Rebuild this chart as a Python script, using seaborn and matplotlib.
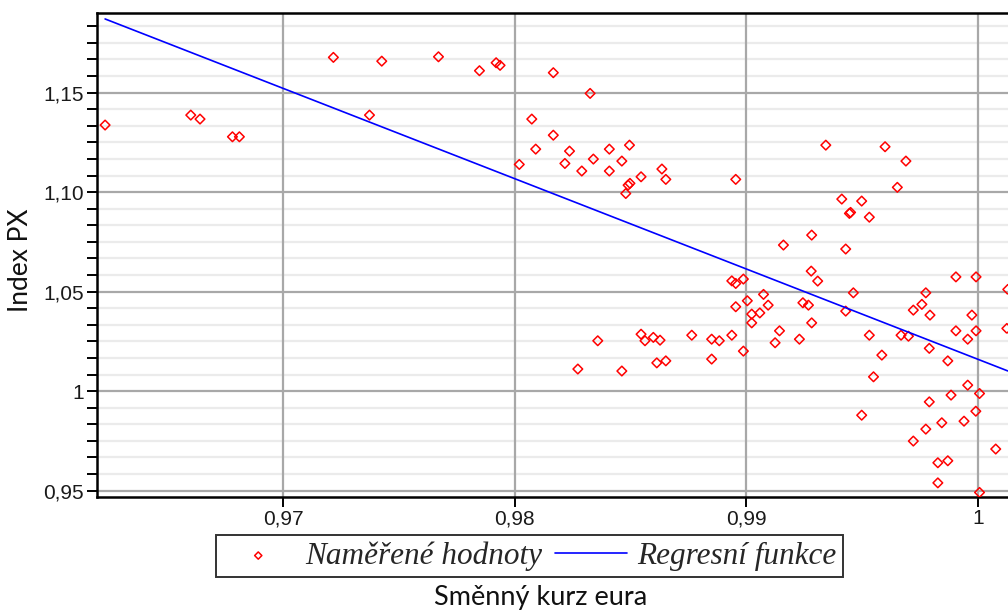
import matplotlib
matplotlib.use("Agg")
import matplotlib.pyplot as plt
from matplotlib.ticker import FixedLocator, FixedFormatter, MultipleLocator, NullFormatter
import seaborn as sns
import pandas as pd

# Exchange rate EUR vs. PX index observations
kurz_eura = [
    0.9623, 0.9660, 0.9664, 0.9678, 0.9681, 0.97216, 0.97372, 0.97425, 0.97670, 0.97847,
    0.97919, 0.97936, 0.98019, 0.98073, 0.98090, 0.98166, 0.98166, 0.98216, 0.98236, 0.98289,
    0.98325, 0.98339, 0.98408, 0.98408, 0.98462, 0.98495, 0.98479, 0.98489, 0.98497, 0.98545,
    0.98635, 0.98652, 0.98954, 0.99160, 0.99343, 0.99599, 0.99689, 0.99652, 0.99412, 0.99498,
    0.99445, 0.99450, 0.99531, 0.99282, 0.99429, 0.99280, 0.99308, 0.99074, 0.99094, 0.99058,
    0.99244, 0.99268, 0.99282, 0.99143, 0.99124, 0.99229, 0.99462, 0.99429, 0.99531, 0.99585,
    0.99549, 0.99498, 0.99668, 0.99700, 0.99775, 0.99758, 0.99721, 0.99793, 0.99790, 0.99870,
    0.99905, 0.99992, 0.99974, 0.99905, 0.99992, 0.99956, 1.00129, 1.00125, 0.99956, 1.00007,
    0.99884, 0.99790, 0.99991, 0.99940, 0.99844, 0.99775, 0.99721, 1.00077, 0.99827, 0.99870,
    0.99827, 1.00007, 0.98937, 0.98954, 0.98987, 0.99004, 0.98954, 0.99023, 0.99023, 0.98987,
    0.98937, 0.98850, 0.98883, 0.98850, 0.98764, 0.98545, 0.98562, 0.98598, 0.98627, 0.98613,
    0.98652, 0.98358, 0.98272, 0.98462,
]
index_px = [
    1.1337, 1.1387, 1.1367, 1.1278, 1.1278, 1.1677, 1.1387, 1.1658, 1.1680, 1.1610,
    1.1650, 1.1637, 1.1139, 1.1367, 1.1216, 1.1600, 1.1286, 1.1144, 1.1206, 1.1106,
    1.1496, 1.1166, 1.1216, 1.1106, 1.1156, 1.1236, 1.0993, 1.1035, 1.1044, 1.1077,
    1.1116, 1.1064, 1.1064, 1.0734, 1.1236, 1.1228, 1.1156, 1.1024, 1.0965, 1.0955,
    1.0893, 1.0898, 1.0874, 1.0784, 1.0714, 1.0603, 1.0553, 1.0486, 1.0432, 1.0393,
    1.0444, 1.0432, 1.0343, 1.0303, 1.0243, 1.0261, 1.0494, 1.0402, 1.0281, 1.0181,
    1.0072, 0.9879, 1.0281, 1.0276, 1.0494, 1.0436, 1.0407, 1.0382, 1.0215, 1.0152,
    1.0574, 1.0574, 1.0382, 1.0303, 1.0303, 1.0261, 1.0511, 1.0315, 1.0030, 0.9988,
    0.9980, 0.9946, 0.9899, 0.9849, 0.9841, 0.9809, 0.9749, 0.9709, 0.9640, 0.9650,
    0.9539, 0.9491, 1.0554, 1.0541, 1.0563, 1.0454, 1.0424, 1.0387, 1.0343, 1.0201,
    1.0281, 1.0261, 1.0253, 1.0161, 1.0281, 1.0286, 1.0253, 1.0270, 1.0256, 1.0142,
    1.0152, 1.0253, 1.0111, 1.0101,
]

# Linear regression function: index = intercept + slope * kurz
reg_intercept = 5.552
reg_slope = -4.536

x_ticks = [0.97, 0.98, 0.99, 1.00]
x_tick_labels = ["0,97", "0,98", "0,99", "1"]
y_ticks = [0.95, 1.00, 1.05, 1.10, 1.15]
y_tick_labels = ["0,95", "1", "1,05", "1,10", "1,15"]

df = pd.DataFrame({"kurz": kurz_eura, "index": index_px})
x_line = [min(kurz_eura), max(kurz_eura)]
reg_df = pd.DataFrame({"kurz": x_line,
                       "index": [reg_intercept + reg_slope * v for v in x_line]})

sns.set_theme(style="white")
plt.rcParams["font.family"] = ["DejaVu Sans"]

fig = plt.figure(figsize=(10.08, 6.13), dpi=100)
ax = fig.add_axes([97 / 1008, 116 / 613, 911 / 1008, 484 / 613])

sns.scatterplot(data=df, x="kurz", y="index", ax=ax, marker="D", s=24,
                facecolor="none", edgecolor="#ff0000", linewidth=1.1,
                label="Naměřené hodnoty", zorder=3)
sns.lineplot(data=reg_df, x="kurz", y="index", ax=ax, color="#0000ff",
             linewidth=1.2, label="Regresní funkce", zorder=4)

ax.set_xlim(0.96195, 1.00130)
ax.set_ylim(0.9468, 1.1900)

ax.xaxis.set_major_locator(FixedLocator(x_ticks))
ax.xaxis.set_major_formatter(FixedFormatter(x_tick_labels))
ax.yaxis.set_major_locator(FixedLocator(y_ticks))
ax.yaxis.set_major_formatter(FixedFormatter(y_tick_labels))
ax.yaxis.set_minor_locator(MultipleLocator(0.05 / 6))
ax.yaxis.set_minor_formatter(NullFormatter())

ax.grid(which="major", axis="both", color="#a8a8a8", linewidth=1.6, linestyle="-")
ax.grid(which="minor", axis="y", color="#ebebeb", linewidth=1.6, linestyle="-")
ax.set_axisbelow(True)
# keep the vertical major grid above the light minor rows
ax.yaxis.set_zorder(0.5)
ax.xaxis.set_zorder(0.7)

for side in ("left", "top", "bottom"):
    ax.spines[side].set_visible(True)
    ax.spines[side].set_color("black")
    ax.spines[side].set_linewidth(1.8)
ax.spines["right"].set_visible(False)

tick_font = ["Liberation Sans", "DejaVu Sans"]
ax.tick_params(axis="both", which="both", direction="out", color="black",
               width=1.4, length=7.5, left=True, bottom=True, pad=2)
ax.tick_params(axis="x", which="major", pad=1.5)
for lbl in ax.get_xticklabels() + ax.get_yticklabels():
    lbl.set_family(tick_font)
    lbl.set_fontsize(15)
    lbl.set_color("#1a1a1a")

label_font = ["Lato", "DejaVu Sans"]
ax.set_xlabel("Směnný kurz eura", family=label_font, fontsize=19.5, color="#111111", va="center")
ax.xaxis.set_label_coords((541 - 97) / 911, (497 - 597) / 484)
ax.set_ylabel("Index PX", family=label_font, fontsize=19, color="#111111", va="center")
ax.yaxis.set_label_coords((21 - 97) / 911, (497 - 260) / 484)

handles, labels = ax.get_legend_handles_labels()
leg = ax.legend(handles, labels, ncol=2, loc="center",
                bbox_to_anchor=(529.5 / 1008, 1 - 556 / 613),
                bbox_transform=fig.transFigure, frameon=True, fancybox=False,
                prop={"family": ["Liberation Serif", "DejaVu Serif"], "style": "italic", "size": 22.5},
                handlelength=2.3, handletextpad=0.35, columnspacing=0.4,
                borderpad=0.2, borderaxespad=0, markerscale=0.75)
leg.get_frame().set_edgecolor("black")
leg.get_frame().set_linewidth(1.4)
leg.get_frame().set_facecolor("white")

fig.savefig("out.png", dpi=100)
